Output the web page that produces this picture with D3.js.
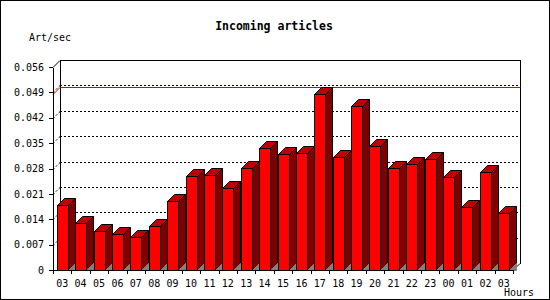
<!DOCTYPE html>
<html>
<head>
<meta charset="utf-8">
<script src="https://cdn.jsdelivr.net/npm/d3@7"></script>
<style>
  body { margin: 0; background: #fff; }
  text { font-family: "DejaVu Sans Mono", monospace; }
</style>
</head>
<body>
<div id="chart"></div>
<script>
const hours = ["03","04","05","06","07","08","09","10","11","12","13","14","15","16","17","18","19","20","21","22","23","00","01","02","03"];
const artPerSec = [0.0179,0.0129,0.0107,0.0099,0.0090,0.0121,0.0190,0.0258,0.0261,0.0225,0.0281,0.0336,0.0319,0.0322,0.0485,0.0311,0.0452,0.0341,0.0281,0.0292,0.0305,0.0256,0.0173,0.0270,0.0156];
const yTicks = [0,0.007,0.014,0.021,0.028,0.035,0.042,0.049,0.056];

const width = 550;
const height = 300;
const depth = 7;

const svg = d3.select("#chart")
  .append("svg")
  .attr("width", width)
  .attr("height", height)
  .attr("shape-rendering", "crispEdges");

svg.append("rect")
  .attr("x", 0.5).attr("y", 0.5)
  .attr("width", width - 1).attr("height", height - 1)
  .attr("fill", "#fff").attr("stroke", "#000");

// Scales
const x = d3.scaleBand()
  .domain(d3.range(hours.length))
  .range([53, 513]);

const y = d3.scaleLinear()
  .domain([0, 0.056])
  .range([270, 67]);

const left = 53, right = 513, base = y(0);

// back plane grid (dotted)
yTicks.slice(1, -1).forEach(v => {
  const yy = Math.round(y(v)) + 0.5;
  svg.append("line")
    .attr("x1", left).attr("y1", yy)
    .attr("x2", left + depth).attr("y2", yy - depth)
    .attr("stroke", "#000").attr("stroke-dasharray", "2,2")
    .attr("shape-rendering", "auto");
  svg.append("line")
    .attr("x1", left + depth).attr("y1", yy - depth)
    .attr("x2", right + depth).attr("y2", yy - depth)
    .attr("stroke", "#000").attr("stroke-dasharray", "2,2");
});

// max line
const maxV = d3.max(artPerSec);
const ym = Math.round(y(maxV)) + 0.5;
svg.append("line")
  .attr("x1", left).attr("y1", ym)
  .attr("x2", left + depth).attr("y2", ym - depth)
  .attr("stroke", "#e00000").attr("shape-rendering", "auto");
svg.append("line")
  .attr("x1", left + depth).attr("y1", ym - depth)
  .attr("x2", right + depth).attr("y2", ym - depth)
  .attr("stroke", "#e00000");

// back frame
const yTop = Math.round(y(0.056)) + 0.5;
svg.append("path")
  .attr("d", `M${left + depth + 0.5},${base - depth} V${yTop - depth} H${right + depth + 0.5} V${base - depth + 0.5}`)
  .attr("fill", "none").attr("stroke", "#000");
svg.append("line")
  .attr("x1", left).attr("y1", yTop)
  .attr("x2", left + depth).attr("y2", yTop - depth)
  .attr("stroke", "#000").attr("shape-rendering", "auto");
svg.append("line")
  .attr("x1", right).attr("y1", base + 0.5)
  .attr("x2", right + depth).attr("y2", base - depth + 0.5)
  .attr("stroke", "#000").attr("shape-rendering", "auto");

// Bars
const bw = 11;
const bars = svg.append("g").selectAll("g")
  .data(artPerSec)
  .enter()
  .append("g")
  .attr("shape-rendering", "auto");

const fx0 = (d, i) => Math.round(x(i) + (x.bandwidth() - bw) / 2) + 0.5;
const fy = d => Math.round(y(d)) + 0.5;
const b = Math.round(base) + 0.5;

bars.append("polygon")
  .attr("points", (d, i) => {
    const x1 = fx0(d, i) + bw, yt = fy(d);
    return `${x1},${yt} ${x1 + depth},${yt - depth} ${x1 + depth},${b - depth} ${x1},${b}`;
  })
  .attr("fill", "#800000").attr("stroke", "#000");

bars.append("polygon")
  .attr("points", (d, i) => {
    const x1 = fx0(d, i) + bw;
    return `${x1},${b} ${x1 + depth},${b - depth} ${x1 + depth},${b}`;
  })
  .attr("fill", "#808080").attr("stroke", "#808080");

bars.append("polygon")
  .attr("points", (d, i) => {
    const x0 = fx0(d, i), x1 = x0 + bw, yt = fy(d);
    return `${x0},${yt} ${x0 + depth},${yt - depth} ${x1 + depth},${yt - depth} ${x1},${yt}`;
  })
  .attr("fill", "#c00000").attr("stroke", "#000");

bars.append("rect")
  .attr("x", (d, i) => fx0(d, i))
  .attr("y", d => fy(d))
  .attr("width", bw)
  .attr("height", d => b - fy(d))
  .attr("fill", "#ff0000").attr("stroke", "#000");

// Axes
const yAxis = d3.axisLeft(y)
  .tickValues(yTicks)
  .tickFormat(d => d === 0 ? "0" : d3.format(".3f")(d))
  .tickSize(4).tickSizeOuter(0).tickPadding(5);

svg.append("g")
  .attr("transform", `translate(${left},0)`)
  .call(yAxis)
  .call(g => g.selectAll("text").attr("font-family", "DejaVu Sans Mono").attr("font-size", 10).attr("fill", "#000"));

const xAxis = d3.axisBottom(x)
  .tickFormat(i => hours[i])
  .tickSize(0).tickSizeOuter(0).tickPadding(10);

const gx = svg.append("g")
  .attr("transform", `translate(0,${base})`)
  .call(xAxis)
  .call(g => g.selectAll("text").attr("font-family", "DejaVu Sans Mono").attr("font-size", 10).attr("fill", "#000"));

// ticks at band boundaries
gx.selectAll(".bnd")
  .data(d3.range(hours.length + 1))
  .enter()
  .append("line")
  .attr("x1", i => Math.round(left + i * x.step()) + 0.5)
  .attr("x2", i => Math.round(left + i * x.step()) + 0.5)
  .attr("y1", 0).attr("y2", 4)
  .attr("stroke", "#000");

// Titles
svg.append("text")
  .attr("x", 274).attr("y", 30)
  .attr("text-anchor", "middle")
  .attr("font-size", "11.5px")
  .attr("font-weight", "bold")
  .text("Incoming articles");

svg.append("text")
  .attr("x", 29).attr("y", 41)
  .attr("font-size", "10px")
  .text("Art/sec");

svg.append("text")
  .attr("x", 534).attr("y", 296)
  .attr("text-anchor", "end")
  .attr("font-size", "10px")
  .text("Hours");
</script>
</body>
</html>
